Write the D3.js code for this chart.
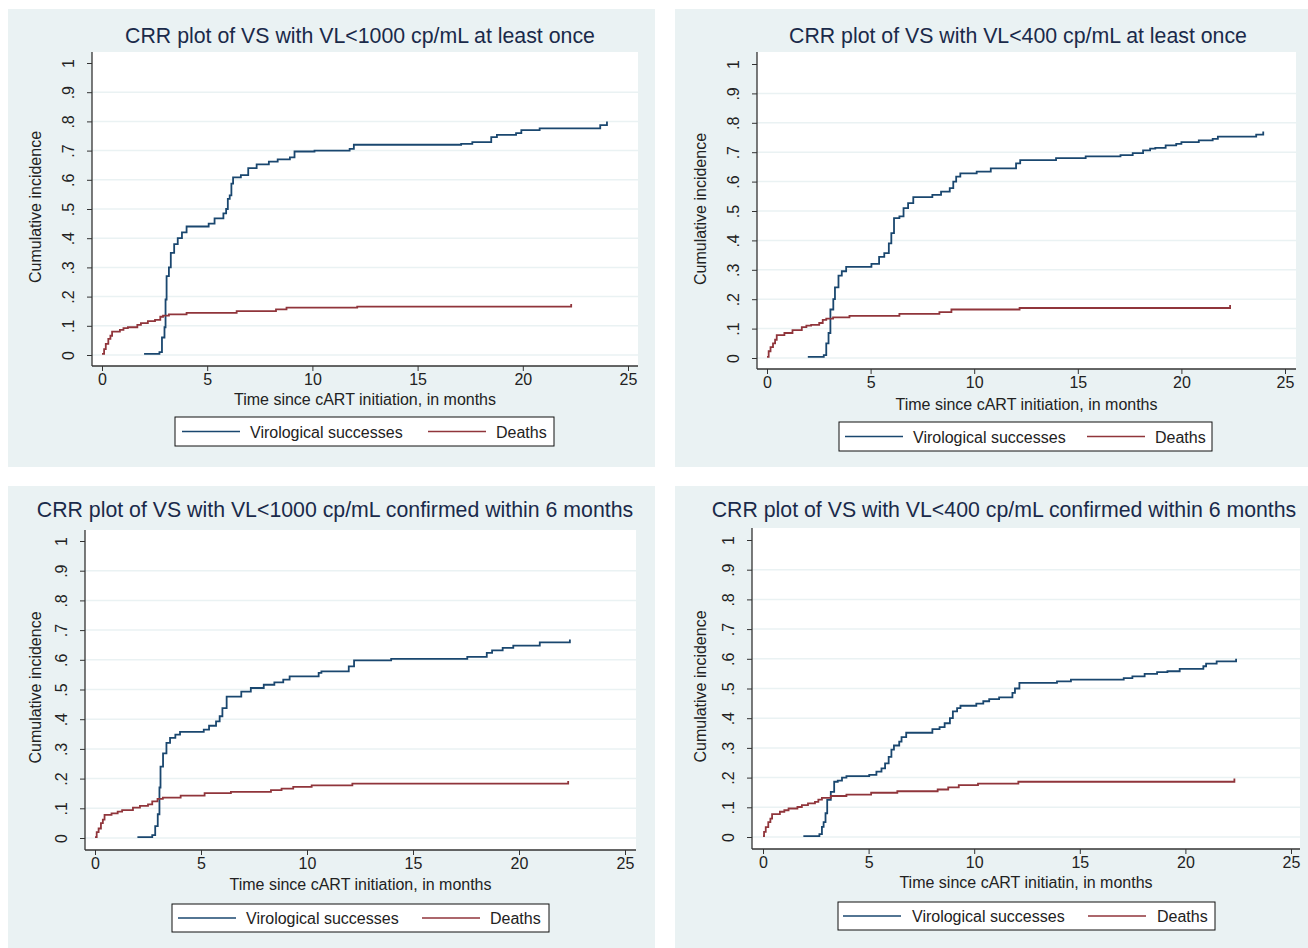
<!DOCTYPE html>
<meta charset="utf-8">
<head>
  <title>CRR plots</title>
  <style>
    body { margin: 0; background: #fff; }
    svg { display: block; font-family: "Liberation Sans", Arial, sans-serif; }
    .title { font-size: 21.3px; fill: #1a2a4a; }
    .tick text { font-size: 16px; fill: #222; font-family: "Liberation Sans", Arial, sans-serif; }
    .tick line { stroke: #333; }
    .axtitle { font-size: 16px; fill: #222; }
    .legtext { font-size: 16px; fill: #222; }
  </style>
</head>
<body>
<script src="https://cdn.jsdelivr.net/npm/d3@7"></script>
<script>

// data: [months, cumulative incidence]
var vs1 = [[2.0,0.004],[2.73,0.01],[2.85,0.06],[2.97,0.095],[3.02,0.19],[3.07,0.27],[3.18,0.30],[3.27,0.35],[3.43,0.38],[3.6,0.40],[3.8,0.42],[4.02,0.44],[5.07,0.45],[5.35,0.468],[5.77,0.485],[5.9,0.50],[5.98,0.535],[6.07,0.547],[6.15,0.587],[6.23,0.608],[6.6,0.616],[6.95,0.64],[7.35,0.653],[7.93,0.662],[8.35,0.67],[8.93,0.677],[9.15,0.697],[10.1,0.70],[11.77,0.706],[11.97,0.72],[17.07,0.723],[17.6,0.729],[18.5,0.746],[18.77,0.754],[19.68,0.76],[19.93,0.77],[20.8,0.776],[23.68,0.787],[24.0,0.80]];
var dth1 = [[0,0.004],[0.1,0.02],[0.18,0.038],[0.3,0.055],[0.4,0.066],[0.48,0.08],[0.85,0.086],[1.02,0.092],[1.23,0.095],[1.68,0.103],[1.85,0.109],[2.18,0.116],[2.52,0.12],[2.77,0.131],[2.9,0.135],[3.18,0.139],[4.02,0.144],[6.4,0.15],[8.27,0.156],[8.77,0.162],[12.13,0.166],[22.3,0.175]];

var vs2 = [[1.97,0.004],[2.74,0.01],[2.86,0.05],[2.97,0.085],[3.06,0.165],[3.2,0.2],[3.28,0.24],[3.45,0.28],[3.61,0.295],[3.82,0.31],[5.04,0.32],[5.41,0.344],[5.66,0.357],[5.88,0.39],[6.0,0.425],[6.13,0.476],[6.39,0.482],[6.59,0.51],[6.81,0.527],[7.06,0.547],[7.98,0.555],[8.4,0.566],[8.82,0.578],[8.99,0.60],[9.13,0.617],[9.33,0.628],[10.12,0.634],[10.8,0.645],[12.02,0.662],[12.22,0.673],[13.95,0.68],[15.38,0.686],[17.06,0.69],[17.65,0.697],[18.15,0.706],[18.49,0.712],[18.74,0.715],[19.24,0.723],[19.75,0.728],[20.0,0.734],[20.84,0.74],[21.51,0.745],[21.76,0.753],[23.61,0.76],[23.95,0.77]];
var dth2 = [[0,0.004],[0.08,0.023],[0.17,0.037],[0.29,0.05],[0.39,0.062],[0.47,0.078],[0.84,0.085],[1.23,0.095],[1.68,0.105],[1.9,0.11],[2.13,0.113],[2.52,0.119],[2.69,0.13],[2.86,0.134],[3.19,0.138],[3.98,0.143],[6.39,0.15],[8.32,0.156],[8.9,0.165],[12.19,0.17],[22.35,0.18]];

var vs3 = [[2.0,0.003],[2.7,0.01],[2.84,0.04],[2.96,0.08],[3.04,0.17],[3.09,0.24],[3.21,0.285],[3.37,0.32],[3.54,0.337],[3.79,0.348],[4.01,0.357],[5.13,0.365],[5.38,0.378],[5.71,0.393],[5.88,0.41],[6.01,0.437],[6.21,0.476],[6.9,0.493],[7.35,0.505],[7.96,0.516],[8.46,0.524],[8.88,0.533],[9.18,0.544],[10.55,0.556],[10.68,0.561],[11.97,0.578],[12.22,0.598],[13.97,0.603],[17.56,0.61],[18.48,0.623],[18.73,0.632],[19.23,0.64],[19.73,0.648],[20.98,0.659],[22.4,0.668]];
var dth3 = [[0,0.003],[0.08,0.02],[0.17,0.032],[0.28,0.05],[0.37,0.062],[0.45,0.078],[0.78,0.083],[1.07,0.089],[1.28,0.094],[1.79,0.102],[2.12,0.108],[2.5,0.113],[2.7,0.123],[2.95,0.132],[3.2,0.136],[4.04,0.143],[5.17,0.151],[6.41,0.155],[8.3,0.161],[8.8,0.166],[9.35,0.172],[10.22,0.177],[12.14,0.183],[22.32,0.192]];

var vs4 = [[1.91,0.003],[2.67,0.01],[2.79,0.034],[2.87,0.05],[2.96,0.08],[3.04,0.125],[3.21,0.152],[3.37,0.186],[3.54,0.19],[3.74,0.2],[3.95,0.205],[5.03,0.209],[5.37,0.22],[5.61,0.231],[5.78,0.248],[5.95,0.27],[6.08,0.294],[6.2,0.308],[6.45,0.321],[6.56,0.336],[6.78,0.351],[8.02,0.363],[8.36,0.37],[8.6,0.383],[8.85,0.4],[8.99,0.423],[9.19,0.434],[9.35,0.442],[10.1,0.449],[10.43,0.457],[10.71,0.464],[11.18,0.47],[11.81,0.485],[11.93,0.5],[12.14,0.519],[13.92,0.524],[14.58,0.53],[17.08,0.535],[17.49,0.541],[18.07,0.549],[18.66,0.555],[19.15,0.558],[19.73,0.566],[20.85,0.575],[20.98,0.584],[21.48,0.591],[22.4,0.6]];
var dth4 = [[0,0.003],[0.05,0.017],[0.13,0.033],[0.25,0.05],[0.35,0.062],[0.43,0.077],[0.8,0.085],[1.01,0.09],[1.21,0.096],[1.63,0.101],[1.84,0.107],[2.13,0.113],[2.46,0.118],[2.62,0.126],[2.79,0.132],[3.21,0.138],[3.95,0.143],[5.12,0.149],[6.36,0.154],[8.27,0.16],[8.77,0.167],[9.27,0.175],[10.18,0.18],[12.09,0.186],[22.32,0.197]];

var titles = ["CRR plot of VS with VL<1000 cp/mL at least once",
              "CRR plot of VS with VL<400 cp/mL at least once",
              "CRR plot of VS with VL<1000 cp/mL confirmed within 6 months",
              "CRR plot of VS with VL<400 cp/mL confirmed within 6 months"];
var xTitles = ["Time since cART initiation, in months",
               "Time since cART initiation, in months",
               "Time since cART initiation, in months",
               "Time since cART initiatin, in months"];
var yTitle = "Cumulative incidence";
var seriesNames = ["Virological successes", "Deaths"];
var xTicks = [0, 5, 10, 15, 20, 25];
var yTicks = [0, .1, .2, .3, .4, .5, .6, .7, .8, .9, 1];

var series = [[vs1, dth1], [vs2, dth2], [vs3, dth3], [vs4, dth4]];
var colors = ["#1a476f", "#90353b"];

// layout of each panel, in page pixels
var layout = [
  {bg: [8, 9, 647, 458], plot: [92, 52, 638, 366], x0: 102, x25: 628, y0: 355, y1: 63,
   tx: 360, ty: 43, xtY: 405, ytX: 41, legend: [175, 417, 379, 29], leg: [7, 75, 253, 321]},
  {bg: [675, 9, 633, 458], plot: [757, 52, 1296, 369], x0: 767, x25: 1285, y0: 358, y1: 64,
   tx: 1018, ty: 43, xtY: 410, ytX: 706, legend: [839, 422, 373, 29], leg: [6, 74, 248, 316]},
  {bg: [8, 486, 647, 462], plot: [85, 530, 636, 850], x0: 95, x25: 625, y0: 838, y1: 541,
   tx: 335, ty: 517, xtY: 890, ytX: 41, legend: [172, 904, 377, 28], leg: [6, 74, 250, 318]},
  {bg: [675, 486, 633, 462], plot: [752, 528, 1300, 849], x0: 763, x25: 1291, y0: 837, y1: 540,
   tx: 1004, ty: 517, xtY: 888, ytX: 706, legend: [838, 902, 377, 28], leg: [5, 74, 250, 319]}
];

var svg = d3.select("body").append("svg")
    .attr("width", 1308)
    .attr("height", 948);

function fmtY(d) {
  if (d === 0) return "0";
  if (d === 1) return "1";
  return "." + Math.round(d * 10);
}

layout.forEach(function(L, i) {
  var g = svg.append("g");
  var p = L.plot;

  g.append("rect")
      .attr("x", L.bg[0]).attr("y", L.bg[1])
      .attr("width", L.bg[2]).attr("height", L.bg[3])
      .attr("fill", "#eaf2f3");

  g.append("rect")
      .attr("x", p[0]).attr("y", p[1])
      .attr("width", p[2] - p[0]).attr("height", p[3] - p[1])
      .attr("fill", "#fff");

  var x = d3.scaleLinear().domain([0, 25]).range([L.x0, L.x25]);
  var y = d3.scaleLinear().domain([0, 1]).range([L.y0, L.y1]);

  // grid lines
  g.selectAll(".grid")
      .data(yTicks.filter(function(d) { return d < 1; }))
      .enter().append("line")
      .attr("x1", p[0]).attr("x2", p[2])
      .attr("y1", function(d) { return y(d); })
      .attr("y2", function(d) { return y(d); })
      .attr("stroke", "#eaf2f3")
      .attr("stroke-width", 1.5);

  // curves
  var line = d3.line()
      .x(function(d) { return x(d[0]); })
      .y(function(d) { return y(d[1]); })
      .curve(d3.curveStepAfter);

  series[i].forEach(function(s, k) {
    g.append("path")
        .datum(s)
        .attr("d", line)
        .attr("fill", "none")
        .attr("stroke", colors[k])
        .attr("stroke-width", 1.8);
  });

  // y axis
  var ya = g.append("g")
      .attr("transform", "translate(" + p[0] + ",0)")
      .call(d3.axisLeft(y).tickValues(yTicks).tickSize(5).tickPadding(0).tickFormat(fmtY));
  ya.select(".domain").remove();
  ya.selectAll(".tick text")
      .attr("x", 0).attr("dy", "0.35em")
      .attr("text-anchor", "middle")
      .attr("transform", "translate(-24,0) rotate(-90)");

  // x axis
  var xa = g.append("g")
      .attr("transform", "translate(0," + p[3] + ")")
      .call(d3.axisBottom(x).tickValues(xTicks).tickSize(5).tickPadding(3));
  xa.select(".domain").remove();

  g.append("line")
      .attr("x1", p[0]).attr("x2", p[0])
      .attr("y1", p[1]).attr("y2", p[3])
      .attr("stroke", "#333").attr("stroke-width", 1.3);
  g.append("line")
      .attr("x1", p[0]).attr("x2", p[2])
      .attr("y1", p[3]).attr("y2", p[3])
      .attr("stroke", "#333").attr("stroke-width", 1.3);

  // titles
  g.append("text").attr("class", "title")
      .attr("x", L.tx).attr("y", L.ty)
      .attr("text-anchor", "middle")
      .text(titles[i]);

  g.append("text").attr("class", "axtitle")
      .attr("x", (p[0] + p[2]) / 2).attr("y", L.xtY)
      .attr("text-anchor", "middle")
      .text(xTitles[i]);

  g.append("text").attr("class", "axtitle")
      .attr("transform", "translate(" + L.ytX + "," + (y(0.5) - 2) + ") rotate(-90)")
      .attr("text-anchor", "middle")
      .text(yTitle);

  // legend
  var lg = L.legend;
  g.append("rect")
      .attr("x", lg[0]).attr("y", lg[1])
      .attr("width", lg[2]).attr("height", lg[3])
      .attr("fill", "#fff").attr("stroke", "#111").attr("stroke-width", 1);
  var cy = lg[1] + lg[3] / 2;
  [0, 1].forEach(function(k) {
    var off = L.leg[k * 2], tx = L.leg[k * 2 + 1];
    g.append("line")
        .attr("x1", lg[0] + off).attr("x2", lg[0] + off + 58)
        .attr("y1", cy).attr("y2", cy)
        .attr("stroke", colors[k]).attr("stroke-width", 1.5);
    g.append("text").attr("class", "legtext")
        .attr("x", lg[0] + tx).attr("y", cy + 6)
        .text(seriesNames[k]);
  });
});

</script>
</body>
